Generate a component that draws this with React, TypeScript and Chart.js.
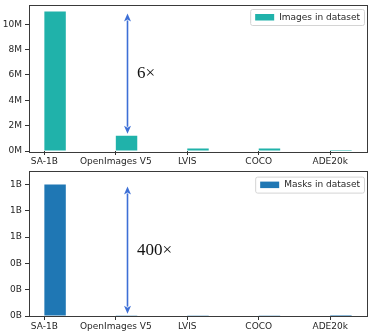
import { useEffect, useRef } from "react";
import { Chart, registerables } from "chart.js";

Chart.register(...registerables);

const categories = ["SA-1B", "OpenImages V5", "LVIS", "COCO", "ADE20k"];
const imagesInDataset = [11.0e6, 1.2e6, 0.2e6, 0.2e6, 0.07e6];
const masksInDataset = [1.0e9, 2.7e6, 1.5e6, 1.2e6, 0.4e6];
const imageTicks = [0, 2e6, 4e6, 6e6, 8e6, 10e6];
const maskTicks = [0, 0.2e9, 0.4e9, 0.6e9, 0.8e9, 1.0e9];
const imageAxisMax = 11.55e6;
const maskAxisMax = 1.1e9;
const imageRatioLabel = "6×";
const maskRatioLabel = "400×";
const fmtImages = (v: number) => `${Math.round(v / 1e6)}M`;
const fmtMasks = (v: number) => `${Math.round(v / 1e9)}B`;

const TEXT = "#262626";
const SANS = "'DejaVu Sans', sans-serif";
const ARROW = "#3d6fd6";

interface PanelSpec {
  values: number[];
  color: string;
  label: string;
  ticks: number[];
  max: number;
  fmt: (v: number) => string;
  ratioLabel: string;
  padTop: number;
  xHeight: number;
  legendTop: number;
}

const overlay = {
  id: "overlay",
  afterDraw(chart: any, _args: any, opts: any) {
    const spec: PanelSpec = opts.spec;
    const { ctx, chartArea: a } = chart;
    const ys = chart.scales.y;
    ctx.save();
    // spines
    ctx.strokeStyle = "#3a3a3a";
    ctx.lineWidth = 1;
    ctx.strokeRect(Math.round(a.left) + 0.5, Math.round(a.top) + 0.5, Math.round(a.right - a.left), Math.round(a.bottom - a.top));

    // arrow between first and second category values, at second bar centre
    const bar = chart.getDatasetMeta(1).data[1];
    const ax = Math.round(bar.x) + 0.5;
    const shrink = 2;
    const y1 = ys.getPixelForValue(spec.values[0]) + shrink;
    const y2 = ys.getPixelForValue(spec.values[1]) - shrink;
    const hl = 8;
    const hw = 3.5;
    ctx.strokeStyle = ARROW;
    ctx.fillStyle = ARROW;
    ctx.lineWidth = 1.6;
    ctx.beginPath();
    ctx.moveTo(ax, y1 + hl - 1);
    ctx.lineTo(ax, y2 - hl + 1);
    ctx.stroke();
    ctx.beginPath();
    ctx.moveTo(ax, y1);
    ctx.lineTo(ax - hw, y1 + hl);
    ctx.lineTo(ax, y1 + hl - 2);
    ctx.lineTo(ax + hw, y1 + hl);
    ctx.closePath();
    ctx.fill();
    ctx.beginPath();
    ctx.moveTo(ax, y2);
    ctx.lineTo(ax - hw, y2 - hl);
    ctx.lineTo(ax, y2 - hl + 2);
    ctx.lineTo(ax + hw, y2 - hl);
    ctx.closePath();
    ctx.fill();

    // ratio label
    const midV = (spec.values[0] + spec.values[1]) / 2;
    ctx.fillStyle = "#111";
    ctx.font = "17px 'Liberation Serif', serif";
    ctx.textAlign = "left";
    ctx.textBaseline = "middle";
    ctx.fillText(spec.ratioLabel, ax + 9.5, ys.getPixelForValue(midV));

    // legend
    ctx.font = `9px ${SANS}`;
    const tw = ctx.measureText(spec.label).width;
    const bw = 5 + 19 + 5 + tw + 4;
    const bh = 16;
    const right = a.right - 3;
    const left = right - bw;
    const top = a.top + spec.legendTop;
    ctx.beginPath();
    ctx.roundRect(left + 0.5, top + 0.5, bw, bh, 2);
    ctx.fillStyle = "rgba(255,255,255,0.8)";
    ctx.fill();
    ctx.strokeStyle = "#d4d4d4";
    ctx.lineWidth = 1;
    ctx.stroke();
    ctx.fillStyle = spec.color;
    ctx.fillRect(left + 5, top + bh / 2 - 3, 19, 6.5);
    ctx.fillStyle = TEXT;
    ctx.textBaseline = "middle";
    ctx.fillText(spec.label, left + 29, top + bh / 2 + 0.5);
    ctx.restore();
  },
};

function Panel({ spec }: { spec: PanelSpec }) {
  const ref = useRef<HTMLCanvasElement>(null);
  useEffect(() => {
    const chart = new Chart(ref.current!, {
      type: "bar",
      data: {
        datasets: [
          {
            label: "",
            data: categories.map((_, i) => ({ x: i, y: 0 })),
            backgroundColor: "rgba(0,0,0,0)",
            categoryPercentage: 0.6,
            barPercentage: 1,
          },
          {
            label: spec.label,
            data: spec.values.map((v, i) => ({ x: i, y: v })),
            backgroundColor: spec.color,
            categoryPercentage: 0.6,
            barPercentage: 1,
          },
        ],
      } as any,
      options: {
        responsive: false,
        animation: false,
        layout: { padding: { top: spec.padTop, right: 7, left: 0, bottom: 0 } },
        plugins: {
          legend: { display: false },
          tooltip: { enabled: false },
          overlay: { spec },
        } as any,
        scales: {
          x: {
            type: "linear",
            min: -0.215,
            max: 4.515,
            offset: false,
            afterBuildTicks: (s: any) => {
              s.ticks = categories.map((_, i) => ({ value: i }));
            },
            afterFit: (s: any) => {
              s.height = spec.xHeight;
              s.paddingLeft = 0;
              s.paddingRight = 0;
            },
            ticks: {
              callback: (_v: any, i: number) => categories[i],
              autoSkip: false,
              maxRotation: 0,
              font: { family: SANS, size: 9 },
              color: TEXT,
              padding: 1,
            },
            grid: { drawOnChartArea: false, drawTicks: true, tickLength: 4, color: "#333", offset: false },
            border: { display: false },
          },
          y: {
            type: "linear",
            min: 0,
            max: spec.max,
            afterBuildTicks: (s: any) => {
              s.ticks = spec.ticks.map((v) => ({ value: v }));
            },
            afterFit: (s: any) => {
              s.width = 29;
              s.paddingTop = 0;
              s.paddingBottom = 0;
            },
            ticks: {
              callback: (v: any) => spec.fmt(Number(v)),
              font: { family: SANS, size: 9 },
              color: TEXT,
              padding: 3,
            },
            grid: { drawOnChartArea: false, drawTicks: true, tickLength: 4, color: "#333" },
            border: { display: false },
          },
        },
      } as any,
      plugins: [overlay],
    });
    return () => chart.destroy();
  }, [spec]);
  return <canvas ref={ref} width={374} height={168} style={{ display: "block", width: 374, height: 168 }} />;
}

const topSpec: PanelSpec = {
  values: imagesInDataset,
  color: "#20b2aa",
  label: "Images in dataset",
  ticks: imageTicks,
  max: imageAxisMax,
  fmt: fmtImages,
  ratioLabel: imageRatioLabel,
  padTop: 4.5,
  xHeight: 17,
  legendTop: 4.5,
};

const bottomSpec: PanelSpec = {
  values: masksInDataset,
  color: "#1f77b4",
  label: "Masks in dataset",
  ticks: maskTicks,
  max: maskAxisMax,
  fmt: fmtMasks,
  ratioLabel: maskRatioLabel,
  padTop: 3.3,
  xHeight: 20,
  legendTop: 5.3,
};

export default function App() {
  return (
    <div style={{ position: "fixed", left: 0, top: 0, width: 374, height: 336, background: "#fff" }}>
      <Panel spec={topSpec} />
      <Panel spec={bottomSpec} />
    </div>
  );
}
